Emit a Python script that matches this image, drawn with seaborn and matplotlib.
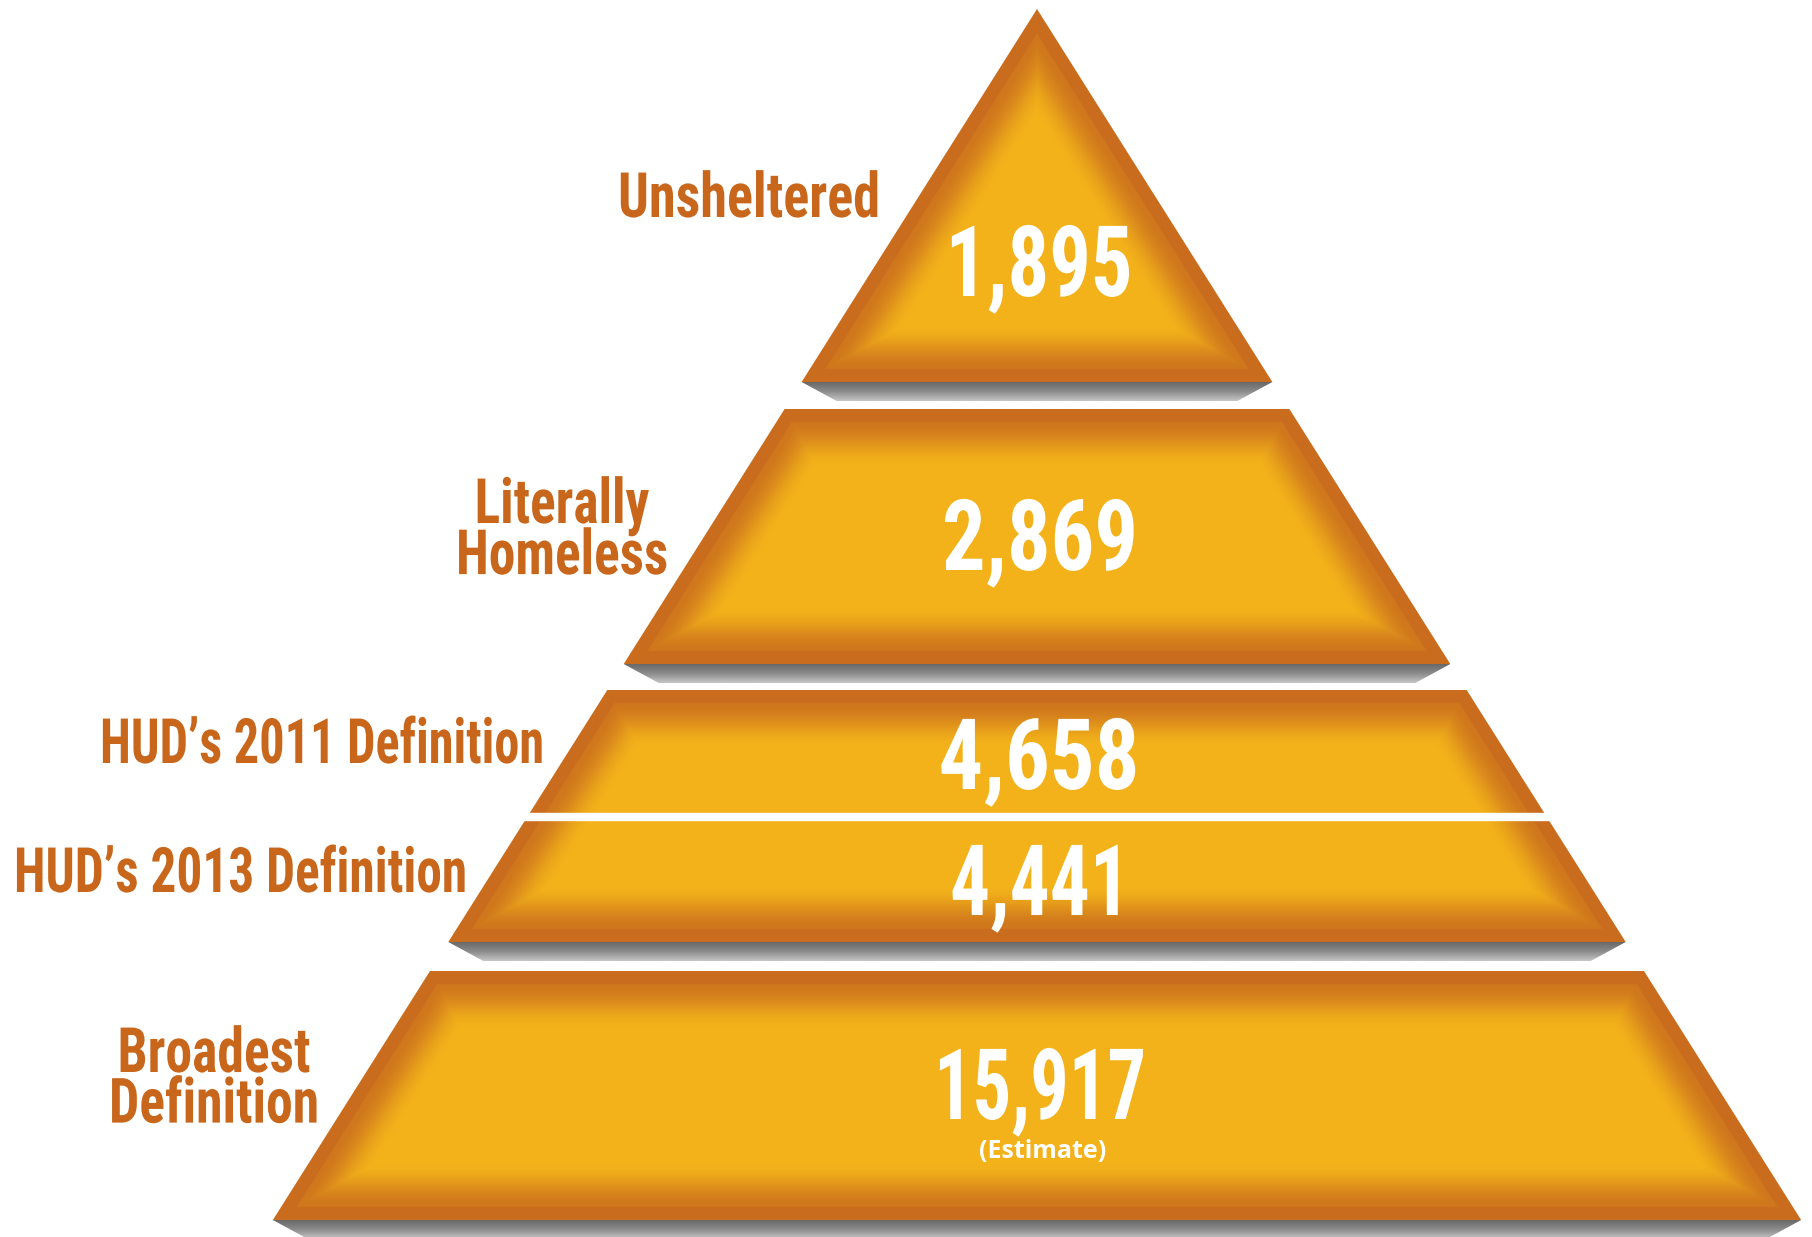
import numpy as np
import matplotlib
matplotlib.use("Agg")
import matplotlib.pyplot as plt
import seaborn as sns
from matplotlib.patches import Polygon
from matplotlib.text import Text
from matplotlib.colors import to_rgb
from matplotlib.transforms import Affine2D, Bbox
from matplotlib import patheffects

# data
tier_labels = ["Unsheltered", "Literally\nHomeless", "HUD\u2019s 2011 Definition",
               "HUD\u2019s 2013 Definition", "Broadest\nDefinition"]
tier_counts = [1895, 2869, 4658, 4441, 15917]
tier_notes = ["", "", "", "", "(Estimate)"]

# layout (pixels on the 1812x1237 canvas)
W, H = 1812, 1237
APEX_X, APEX_Y = 1037, 9
SLOPE = 0.631                      # horizontal run of the sides per pixel of drop
blocks = [(9, 382), (409, 664), (690, 942), (971, 1220)]
divider = (813, 820)               # white cut between the two HUD tiers
count_x = [1039, 1040, 1039, 1040, 1040]
count_base = [296, 570, 789, 915, 1119]
count_width = [187, 196, 201, 180, 212]
note_y = [None, None, None, None, 1151]
label_x = [880, 562, 100, 14, 214]
label_ha = ["right", "center", "left", "left", "center"]
label_top = [170, 476, 716, 845, 1025]
label_width = [262, 212, 444, 453, 210]

BORDER = "#C96C1E"
GLOW = "#CF771D"
FILL = "#F3B21A"
LABEL = "#C8661C"
HEAVY = ["Roboto Condensed", "Roboto", "DejaVu Sans"]


class Squeeze(patheffects.AbstractPathEffect):
    """Draw a text narrower (condensed face), keeping its anchor in place."""

    def __init__(self, text):
        super().__init__()
        self.text = text

    def draw_path(self, renderer, gc, tpath, affine, rgbFace=None):
        x0 = self.text.anchor_x()
        sx = self.text.sx
        squeeze = Affine2D().translate(-x0, 0).scale(sx, 1).translate(x0, 0)
        renderer.draw_path(gc, tpath, affine + squeeze, rgbFace)


class CondensedText(Text):
    """Text squeezed horizontally to a given width in pixels."""

    def __init__(self, x, y, s, width, **kw):
        super().__init__(x, y, s, **kw)
        self.width = width
        self.sx = 1.0
        self.set_path_effects([Squeeze(self)])

    def anchor_x(self):
        return self.get_transform().transform(self.get_position())[0]

    def draw(self, renderer):
        natural = Text.get_window_extent(self, renderer).width
        self.sx = self.width / natural
        super().draw(renderer)

    def get_window_extent(self, renderer=None, dpi=None):
        bb = super().get_window_extent(renderer, dpi)
        x0 = self.anchor_x()
        return Bbox([[x0 + (bb.x0 - x0) * self.sx, bb.y0],
                     [x0 + (bb.x1 - x0) * self.sx, bb.y1]])


def half_width(y):
    return SLOPE * (np.asarray(y) - APEX_Y)


def block_image(y0, y1, apex):
    ys = np.arange(y0, y1) + 0.5
    x_lo = int(APEX_X - half_width(y1)) - 2
    x_hi = int(APEX_X + half_width(y1)) + 2
    xs = np.arange(x_lo, x_hi) + 0.5
    X, Y = np.meshgrid(xs, ys)
    d = (half_width(Y) - np.abs(X - APEX_X)) / np.sqrt(1 + SLOPE ** 2)
    d = np.minimum(d, y1 - Y)
    if not apex:
        d = np.minimum(d, Y - y0)
    t = np.clip((d - 13) / 44, 0, 1)
    t = t * t * (3 - 2 * t)
    cmap = sns.blend_palette([GLOW, FILL], as_cmap=True)
    rgb = cmap(t)[..., :3]
    mix = np.clip((d - 12) / 2, 0, 1)[..., None]
    rgb = np.array(to_rgb(BORDER)) * (1 - mix) + rgb * mix
    alpha = np.clip(d + 0.5, 0, 1)[..., None]
    return np.concatenate([rgb, alpha], axis=2), (x_lo, x_hi, y1, y0)


sns.set_theme(style="white")
plt.rcParams["font.family"] = ["Roboto", "DejaVu Sans"]

fig = plt.figure(figsize=(W / 100, H / 100), dpi=100)
ax = fig.add_axes([0, 0, 1, 1])

for i, (y0, y1) in enumerate(blocks):
    # grey bevel under each block
    hw = half_width(y1)
    sh = Polygon([(APEX_X - hw, y1), (APEX_X + hw, y1),
                  (APEX_X + hw - 35, y1 + 19), (APEX_X - hw + 35, y1 + 19)],
                 closed=True, facecolor="none", edgecolor="none")
    ax.add_patch(sh)
    grad = np.array(sns.blend_palette(["#6a6a6a", "#8c8c8c", "#c4c4c4"], 19))[:, None, :]
    im = ax.imshow(grad, extent=(APEX_X - hw, APEX_X + hw, y1 + 19, y1),
                   aspect="auto", interpolation="bilinear", zorder=1)
    im.set_clip_path(sh)

    img, ext = block_image(y0, y1, apex=(i == 0))
    ax.imshow(img, extent=ext, aspect="auto", interpolation="nearest", zorder=2)

ax.axhspan(*divider, color="white", zorder=3)

for i, n in enumerate(tier_counts):
    ax.add_artist(CondensedText(count_x[i], count_base[i], f"{n:,}", count_width[i],
                                color="white", fontsize=71, fontweight="bold",
                                family=HEAVY, ha="center", va="baseline", zorder=4))
    if tier_notes[i]:
        ax.text(APEX_X + 6, note_y[i], tier_notes[i], color="white", fontsize=18,
                family=["Open Sans", "DejaVu Sans"], fontweight="bold",
                ha="center", va="center", zorder=4)

for i, lab in enumerate(tier_labels):
    ax.add_artist(CondensedText(label_x[i], label_top[i], lab, label_width[i],
                                color=LABEL, fontsize=45, fontweight="bold",
                                family=HEAVY, ha=label_ha[i], va="top",
                                multialignment="center", linespacing=0.8, zorder=4))

ax.set_xlim(0, W)
ax.set_ylim(H, 0)
ax.set_aspect("auto")
ax.axis("off")

fig.savefig("out.png", dpi=100)
